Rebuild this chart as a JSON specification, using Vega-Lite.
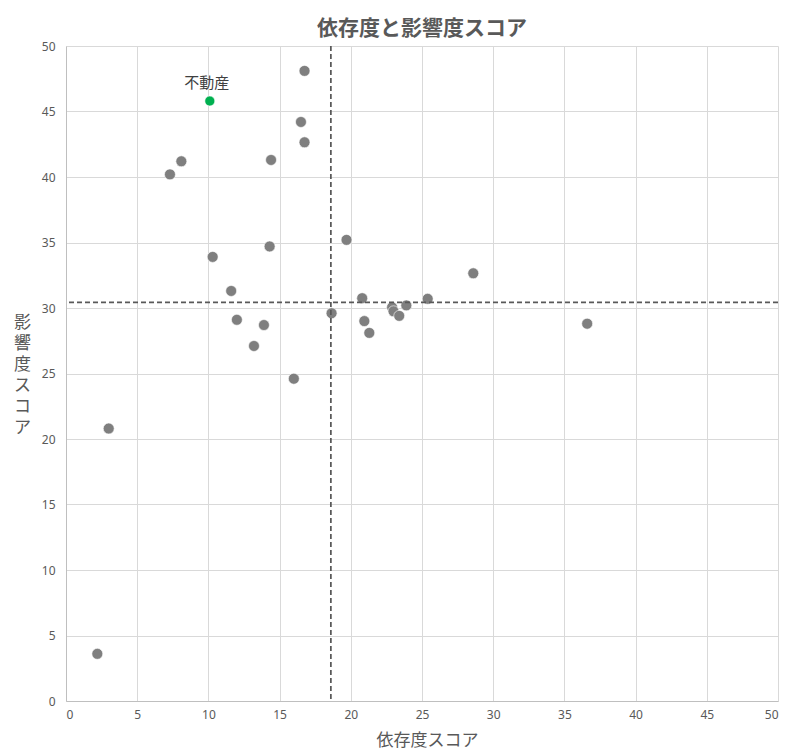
{
  "$schema": "https://vega.github.io/schema/vega-lite/v6.json",
  "width": 712,
  "height": 655,
  "autosize": {"type": "none"},
  "padding": {"left": 66, "top": 46, "right": 22, "bottom": 55},
  "background": "white",
  "title": {
    "text": "依存度と影響度スコア",
    "anchor": "middle",
    "frame": "group",
    "font": "Noto Sans CJK JP",
    "fontSize": 21,
    "fontWeight": "bold",
    "color": "#595959",
    "baseline": "alphabetic",
    "offset": 10,
    "dy": 26
  },
  "datasets": {
    "scores": [
      {"category": "その他", "dependence": 2.2, "impact": 3.6},
      {"category": "その他", "dependence": 3.0, "impact": 20.8},
      {"category": "その他", "dependence": 7.3, "impact": 40.2},
      {"category": "その他", "dependence": 8.1, "impact": 41.2},
      {"category": "その他", "dependence": 10.3, "impact": 33.9},
      {"category": "その他", "dependence": 11.6, "impact": 31.3},
      {"category": "その他", "dependence": 12.0, "impact": 29.1},
      {"category": "その他", "dependence": 13.2, "impact": 27.1},
      {"category": "その他", "dependence": 13.9, "impact": 28.7},
      {"category": "その他", "dependence": 14.3, "impact": 34.7},
      {"category": "その他", "dependence": 14.4, "impact": 41.3},
      {"category": "その他", "dependence": 16.0, "impact": 24.6},
      {"category": "その他", "dependence": 16.5, "impact": 44.2},
      {"category": "その他", "dependence": 16.75, "impact": 48.1},
      {"category": "その他", "dependence": 16.75, "impact": 42.65},
      {"category": "その他", "dependence": 18.65, "impact": 29.6},
      {"category": "その他", "dependence": 19.7, "impact": 35.2},
      {"category": "その他", "dependence": 20.8, "impact": 30.75},
      {"category": "その他", "dependence": 20.95, "impact": 29.0},
      {"category": "その他", "dependence": 21.3, "impact": 28.1},
      {"category": "その他", "dependence": 22.9, "impact": 30.05},
      {"category": "その他", "dependence": 23.0, "impact": 29.75},
      {"category": "その他", "dependence": 23.4, "impact": 29.4},
      {"category": "その他", "dependence": 23.9, "impact": 30.2},
      {"category": "その他", "dependence": 25.4, "impact": 30.7},
      {"category": "その他", "dependence": 28.6, "impact": 32.65},
      {"category": "その他", "dependence": 36.6, "impact": 28.8},
      {"category": "不動産", "dependence": 10.1, "impact": 45.8}
    ],
    "avgX": [{"dependence": 18.6}],
    "avgY": [{"impact": 30.43}]
  },
  "config": {
    "view": {"stroke": null},
    "axis": {
      "gridColor": "#d9d9d9",
      "gridWidth": 1,
      "domainColor": "#bfbfbf",
      "domainWidth": 1,
      "ticks": false,
      "labelFont": "Noto Sans",
      "labelFontSize": 12,
      "labelColor": "#595959",
      "titleFont": "Noto Sans CJK JP",
      "titleFontSize": 17,
      "titleFontWeight": "normal",
      "titleColor": "#595959"
    }
  },
  "layer": [
    {
      "data": {"name": "scores"},
      "transform": [{"filter": "datum.category !== '不動産'"}],
      "mark": {"type": "point", "filled": true, "size": 120, "opacity": 1, "stroke": "#ffffff", "strokeWidth": 0.6},
      "encoding": {
        "x": {
          "field": "dependence",
          "type": "quantitative",
          "scale": {"domain": [0, 50], "nice": false, "zero": true},
          "axis": {
            "values": [0, 5, 10, 15, 20, 25, 30, 35, 40, 45, 50],
            "labelPadding": 8,
            "title": "依存度スコア",
            "titleX": 361,
            "titleY": 39,
            "titleBaseline": "middle",
            "titleAnchor": "middle"
          }
        },
        "y": {
          "field": "impact",
          "type": "quantitative",
          "scale": {"domain": [0, 50], "nice": false, "zero": true},
          "axis": {
            "values": [0, 5, 10, 15, 20, 25, 30, 35, 40, 45, 50],
            "labelPadding": 11,
            "title": ["影", "響", "度", "ス", "コ", "ア"],
            "titleAngle": 0,
            "titleX": -44,
            "titleY": 276,
            "titleAlign": "center",
            "titleBaseline": "middle",
            "titleLineHeight": 21
          }
        },
        "color": {"value": "#7f7f7f"}
      }
    },
    {
      "data": {"name": "avgX"},
      "mark": {"type": "rule", "color": "#595959", "strokeWidth": 1.75, "strokeDash": [5, 3]},
      "encoding": {
        "x": {"field": "dependence", "type": "quantitative"}
      }
    },
    {
      "data": {"name": "avgY"},
      "mark": {"type": "rule", "color": "#595959", "strokeWidth": 1.75, "strokeDash": [5, 3]},
      "encoding": {
        "y": {"field": "impact", "type": "quantitative"}
      }
    },
    {
      "data": {"name": "scores"},
      "transform": [{"filter": "datum.category === '不動産'"}],
      "mark": {"type": "point", "filled": true, "size": 100, "opacity": 1, "stroke": "#ffffff", "strokeWidth": 0.6},
      "encoding": {
        "x": {"field": "dependence", "type": "quantitative"},
        "y": {"field": "impact", "type": "quantitative"},
        "color": {"value": "#00b050"}
      }
    },
    {
      "data": {"name": "scores"},
      "transform": [{"filter": "datum.category === '不動産'"}],
      "mark": {"type": "text", "font": "Noto Sans CJK JP", "fontSize": 15, "color": "#404040", "dy": -18, "dx": -3},
      "encoding": {
        "x": {"field": "dependence", "type": "quantitative"},
        "y": {"field": "impact", "type": "quantitative"},
        "text": {"field": "category"}
      }
    }
  ]
}
